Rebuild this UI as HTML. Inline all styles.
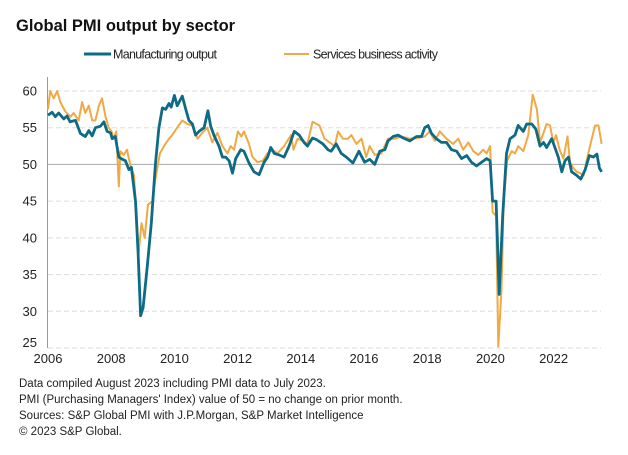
<!DOCTYPE html>
<html><head><meta charset="utf-8"><style>
body{margin:0;background:#fff;}
svg{display:block;font-family:"Liberation Sans",sans-serif;}
</style></head><body>
<svg id="c" width="628" height="455" xmlns="http://www.w3.org/2000/svg">
<text x="16" y="31" font-size="16.5" font-weight="bold" fill="#111">Global PMI output by sector</text>
<g>
<line x1="84" y1="54" x2="111" y2="54" stroke="#0e6b85" stroke-width="3"/>
<text x="113" y="58.5" font-size="12.5" fill="#222" textLength="104">Manufacturing output</text>
<line x1="284" y1="54" x2="309" y2="54" stroke="#f0a945" stroke-width="2"/>
<text x="313" y="58.5" font-size="12.5" fill="#222" textLength="125">Services business activity</text>
</g>
<g id="grid"></g><g id="axes"></g><g id="series"></g>
<g font-size="11.5" fill="#222">
<text x="19" y="387">Data compiled August 2023 including PMI data to July 2023.</text>
<text x="19" y="403">PMI (Purchasing Managers' Index) value of 50 = no change on prior month.</text>
<text x="19" y="419">Sources: S&amp;P Global PMI with J.P.Morgan, S&amp;P Market Intelligence</text>
<text x="19" y="435">© 2023 S&amp;P Global.</text>
</g>
</svg>
<script>
const yTicks=[25,30,35,40,45,50,55,60];
const xTicks=[2006,2008,2010,2012,2014,2016,2018,2020,2022];
const mfgDates=[2006.0,2006.13,2006.23,2006.34,2006.5,2006.6,2006.7,2006.87,2007.03,2007.18,2007.29,2007.4,2007.5,2007.66,2007.77,2007.87,2007.98,2008.03,2008.13,2008.24,2008.35,2008.45,2008.56,2008.64,2008.77,2008.85,2008.93,2009.01,2009.14,2009.27,2009.4,2009.51,2009.62,2009.72,2009.83,2009.9,2010.0,2010.09,2010.25,2010.36,2010.46,2010.57,2010.67,2010.78,2010.94,2011.06,2011.15,2011.25,2011.41,2011.52,2011.62,2011.73,2011.84,2011.94,2012.1,2012.2,2012.36,2012.52,2012.68,2012.84,2012.95,2013.05,2013.16,2013.31,2013.47,2013.63,2013.79,2013.95,2014.1,2014.21,2014.37,2014.49,2014.7,2014.86,2014.96,2015.12,2015.28,2015.44,2015.65,2015.84,2016.02,2016.18,2016.34,2016.5,2016.66,2016.76,2016.92,2017.08,2017.24,2017.45,2017.66,2017.82,2017.92,2018.03,2018.14,2018.29,2018.45,2018.61,2018.77,2018.93,2019.09,2019.25,2019.4,2019.56,2019.72,2019.88,2019.99,2020.07,2020.18,2020.28,2020.39,2020.51,2020.62,2020.78,2020.88,2021.04,2021.15,2021.31,2021.44,2021.57,2021.68,2021.78,2021.94,2022.05,2022.15,2022.26,2022.36,2022.47,2022.57,2022.73,2022.86,2023.0,2023.13,2023.26,2023.37,2023.45,2023.52];
const mfgValues=[56.7,57.1,56.5,57.0,56.2,56.6,55.8,56.0,54.2,53.8,54.6,53.9,55.0,55.2,55.8,54.5,54.3,53.5,53.8,51.0,50.7,50.5,49.3,49.6,45,38,29.4,30.5,36,42,50,55,57.7,57.5,58.3,57.8,59.4,58.0,59.3,57.5,56.0,55.5,54.0,54.5,55.0,57.3,55.2,54.0,52.5,51.0,51.0,50.5,48.8,50.8,52.0,51.8,50.2,49.0,48.6,50.3,51.0,52.3,51.5,51.3,51.0,52.5,54.5,54.0,53.0,52.5,53.6,53.4,52.8,52.0,51.8,52.8,51.5,51.0,50.2,51.8,50.3,50.7,50.0,51.8,52.0,53.2,53.8,54.0,53.6,53.2,53.8,53.8,55.0,55.3,54.2,53.5,53.0,53.0,52.0,51.8,50.8,51.2,50.3,49.8,50.3,50.8,50.5,45,45,32.3,43,51.5,53.5,54.0,55.3,54.5,55.5,55.5,54.8,52.5,53.0,52.3,53.5,52.2,51.0,49.0,50.5,51.0,49.0,48.5,48.0,49.3,51.2,51.0,51.4,49.5,49.0];
const svcDates=[2006.0,2006.07,2006.18,2006.29,2006.39,2006.55,2006.71,2006.81,2006.97,2007.08,2007.18,2007.29,2007.4,2007.5,2007.61,2007.71,2007.82,2007.92,2008.01,2008.08,2008.16,2008.24,2008.29,2008.4,2008.5,2008.61,2008.72,2008.8,2008.87,2008.96,2009.06,2009.16,2009.3,2009.4,2009.54,2009.67,2009.83,2009.93,2010.09,2010.25,2010.41,2010.57,2010.73,2010.88,2011.04,2011.2,2011.36,2011.52,2011.68,2011.78,2011.89,2012.01,2012.12,2012.2,2012.36,2012.47,2012.63,2012.79,2012.95,2013.1,2013.26,2013.47,2013.69,2013.77,2013.9,2014.06,2014.21,2014.37,2014.59,2014.75,2014.91,2015.07,2015.18,2015.33,2015.49,2015.6,2015.76,2015.92,2016.07,2016.18,2016.34,2016.55,2016.76,2016.97,2017.18,2017.45,2017.71,2017.92,2018.08,2018.24,2018.4,2018.61,2018.82,2018.98,2019.14,2019.3,2019.46,2019.62,2019.77,2019.88,2019.99,2020.07,2020.18,2020.25,2020.35,2020.42,2020.53,2020.67,2020.78,2020.88,2021.04,2021.2,2021.34,2021.47,2021.57,2021.68,2021.78,2021.89,2021.99,2022.08,2022.19,2022.31,2022.44,2022.52,2022.63,2022.73,2022.84,2022.95,2023.07,2023.21,2023.31,2023.42,2023.52];
const svcValues=[57.5,60.0,59.0,60.0,58.5,57.2,56.5,57.0,56.0,58.5,57.0,58.0,56.0,56.0,58.0,59.0,56.5,55.0,54.5,53.5,54.5,47.0,51.8,51.3,52.0,49.8,48.5,43,38.0,42.0,40.0,44.5,45.0,48.0,51.5,52.5,53.5,54.0,55.0,56.0,55.5,55.3,53.5,54.3,55.0,53.0,54.3,52.5,51.5,52.5,52.0,54.5,53.8,54.5,52.8,51.0,50.3,50.5,51.5,52.0,51.5,52.5,54.0,52.0,53.5,53.2,52.8,55.8,55.3,53.5,53.0,52.5,54.5,53.5,53.5,54.0,52.8,53.5,51.0,52.5,51.3,51.5,53.5,53.5,53.8,53.5,53.6,53.8,54.5,53.2,54.5,53.5,52.8,53.5,52.0,53.0,51.8,51.3,52.0,51.5,52.5,43.5,43,25.2,33,45,50.5,51.8,51.5,52.5,51.8,54.0,59.5,57.5,53.0,54.3,55.5,55.3,53.0,54.0,52.0,50.8,53.8,50.3,49.5,49.0,48.8,48.5,51.0,53.5,55.3,55.3,52.8];

const NS='http://www.w3.org/2000/svg';
const x0=48,pxYear=31.6,y0=348,pxUnit=7.343;
function xs(t){return x0+(t-2006)*pxYear;}
function ys(v){return y0-(v-25)*pxUnit;}
function mk(tag,attrs,parent){const e=document.createElementNS(NS,tag);for(const k in attrs)e.setAttribute(k,attrs[k]);parent.appendChild(e);return e;}
const grid=document.getElementById('grid'),axes=document.getElementById('axes'),series=document.getElementById('series');
yTicks.forEach(v=>{
  const l=mk('line',{x1:x0,x2:601,y1:ys(v),y2:ys(v),stroke:v===50?'#aaa':'#ddd','stroke-width':1,'stroke-dasharray':v===50?'none':'5,3'},grid);
  
  
  const t=mk('text',{x:37,y:ys(v)+(v===25?-1:4.5),'text-anchor':'end','font-size':13,fill:'#222'},axes);
  t.textContent=v;
  
  
});
const ax=mk('line',{x1:x0-0.5,x2:x0-0.5,y1:77,y2:y0,stroke:'#999','stroke-width':1},axes);


xTicks.forEach(yr=>{
  const t=mk('text',{x:xs(yr),y:363,'text-anchor':'middle','font-size':13,fill:'#222'},axes);
  t.textContent=yr;
  
  
});
function path(d,v){return d.map((t,i)=>(i?'L':'M')+xs(t).toFixed(1)+','+ys(v[i]).toFixed(1)).join('');}
const ps=mk('path',{d:path(svcDates,svcValues),fill:'none',stroke:'#f0a945','stroke-width':2,'stroke-linejoin':'round'},series);


const pm=mk('path',{d:path(mfgDates,mfgValues),fill:'none',stroke:'#0e6b85','stroke-width':2.8,'stroke-linejoin':'round'},series);


</script>
</body></html>
